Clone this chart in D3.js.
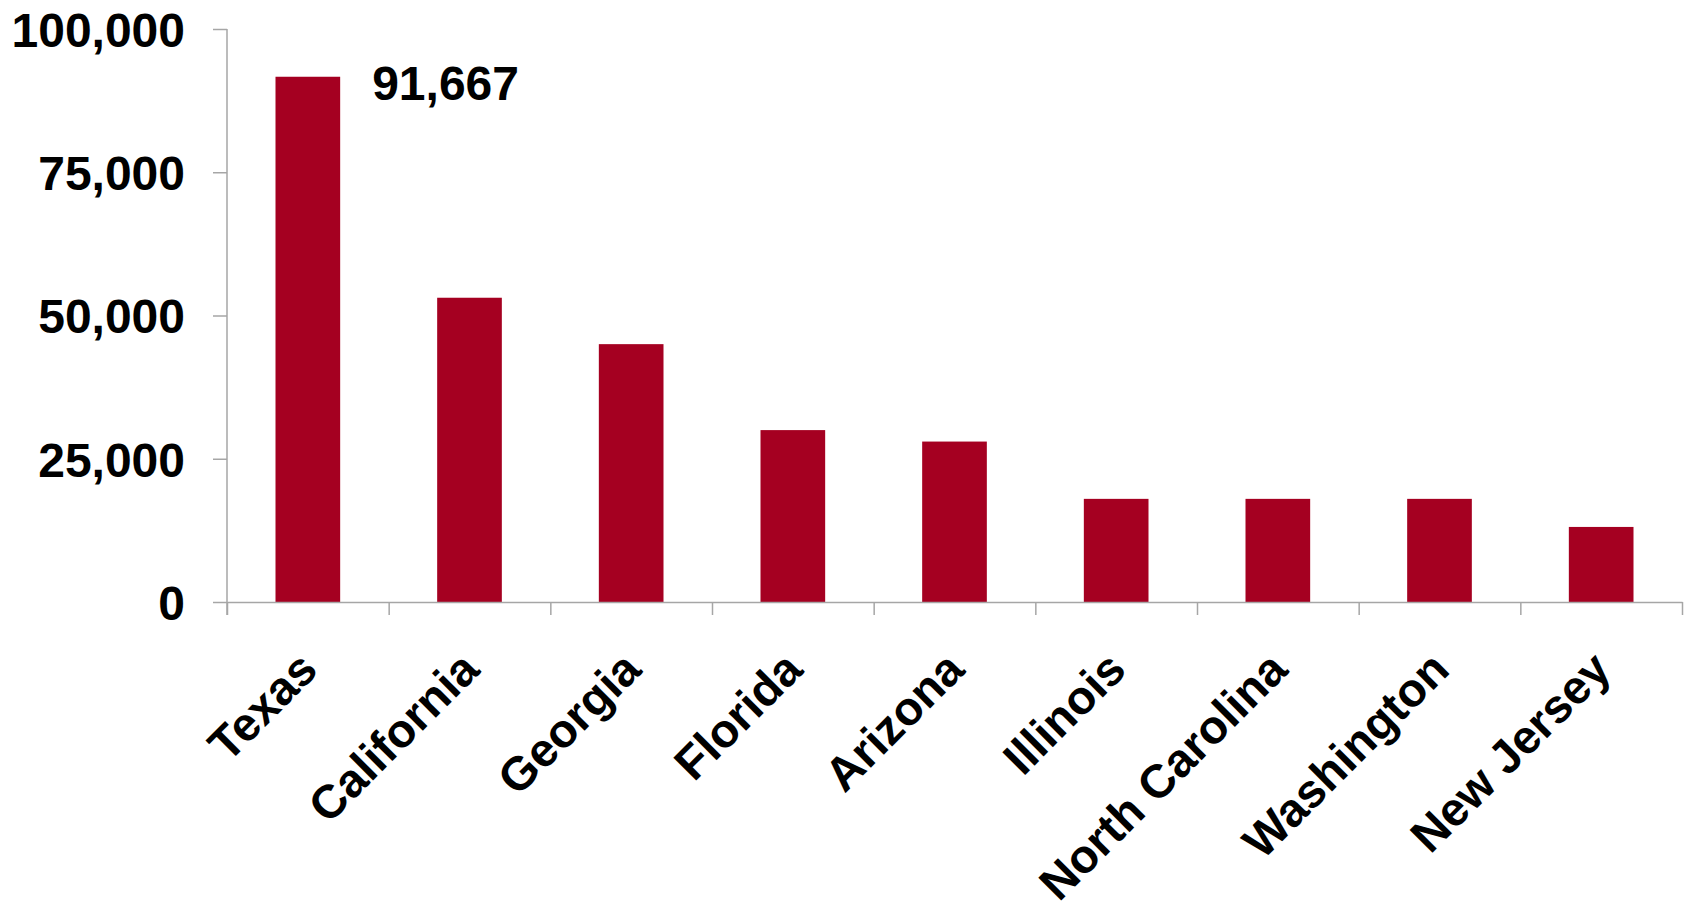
<!DOCTYPE html>
<html>
<head>
<meta charset="utf-8">
<script src="https://cdn.jsdelivr.net/npm/d3@7/dist/d3.min.js"></script>
<style>
  html, body { margin: 0; padding: 0; background: #ffffff; }
  svg { display: block; }
  text { font-family: "Liberation Sans", Arial, Helvetica, sans-serif; font-weight: bold; fill: #000; }
</style>
</head>
<body>
<svg id="chart" width="1687" height="910"></svg>
<script>
const states = ["Texas", "California", "Georgia", "Florida", "Arizona", "Illinois", "North Carolina", "Washington", "New Jersey"];
const values = [91667, 53100, 45000, 30000, 28000, 18000, 18000, 18000, 13100];
const yTicks = [0, 25000, 50000, 75000, 100000];
const labelledValue = "91,667";

const plotLeft = 227, plotRight = 1682, plotTop = 29, plotBottom = 602;
const svg = d3.select("#chart");

const x = d3.scaleBand().domain(states).range([plotLeft, plotRight]).paddingInner(0.6).paddingOuter(0.3);
const y = d3.scaleLinear().domain([0, 100000]).range([plotBottom, plotTop]);
const xEdge = d3.scaleLinear().domain([0, states.length]).range([plotLeft, plotRight]);

const axisColor = "#a6a6a6";

// Bars
svg.append("g").selectAll("rect").data(values).join("rect")
  .attr("x", (d, i) => x(states[i]))
  .attr("y", d => y(d))
  .attr("width", x.bandwidth())
  .attr("height", d => y(0) - y(d))
  .attr("fill", "#a50021");

// Y axis
const yAxis = svg.append("g").attr("transform", `translate(${plotLeft},0)`)
  .call(d3.axisLeft(y).tickValues(yTicks).tickFormat(d3.format(",")).tickSize(14).tickPadding(28));
yAxis.select(".domain").attr("stroke", axisColor).attr("stroke-width", 1.5).attr("d", `M0,${plotTop}V${plotBottom + 13}`);
yAxis.selectAll(".tick line").attr("stroke", axisColor).attr("stroke-width", 1.5);
yAxis.selectAll(".tick text").attr("font-size", 48).attr("font-family", "Liberation Sans, Arial, sans-serif")
  .attr("font-weight", "bold").attr("fill", "#000").attr("dy", "0.36em");

// X axis (ticks at category boundaries)
const xAxis = svg.append("g").attr("transform", `translate(0,${plotBottom})`)
  .call(d3.axisBottom(xEdge).tickValues(d3.range(0, states.length + 1)).tickFormat("").tickSize(13).tickSizeOuter(0));
xAxis.select(".domain").attr("stroke", axisColor).attr("stroke-width", 1.5);
xAxis.selectAll(".tick line").attr("stroke", axisColor).attr("stroke-width", 1.5);

// Category labels rotated
svg.append("g").selectAll("text").data(states).join("text")
  .attr("transform", d => `translate(${x(d) + x.bandwidth() / 2 + 12},${plotBottom + 70}) rotate(-45)`)
  .attr("text-anchor", "end")
  .attr("font-size", 47)
  .text(d => d);

// Value label on Texas
svg.append("text")
  .attr("x", x(states[0]) + x.bandwidth() + 32)
  .attr("y", y(values[0]) + 23)
  .attr("font-size", 48)
  .text(labelledValue);
</script>
</body>
</html>
